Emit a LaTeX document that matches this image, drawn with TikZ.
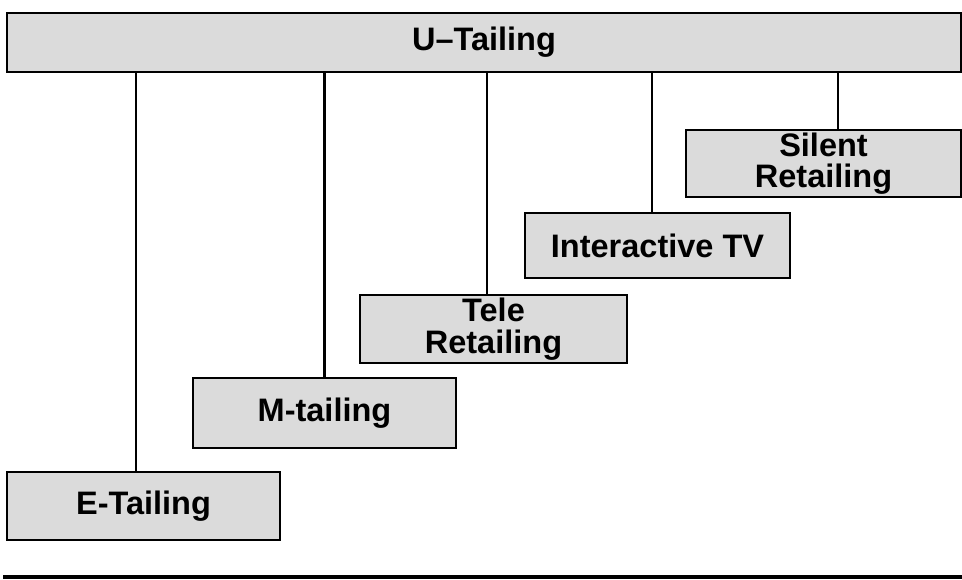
\documentclass[tikz,border=0pt]{standalone}
\usepackage{fontspec}
\setmainfont{Liberation Sans}
\usetikzlibrary{calc}
\tikzset{
  box/.style={draw=black, line width=1.4pt, fill=black!14, inner sep=0pt, align=center,
    font=\bfseries\fontsize{18.5}{18}\selectfont},
  link/.style={line width=1.2pt},
}

\begin{document}
\begin{tikzpicture}[x=0.02cm,y=-0.02cm]
  \useasboundingbox (0,0) rectangle (962,580);

  % 方框
  \node[box, minimum width=19.08cm, minimum height=1.18cm] (utail) at (484,42.5) {U--Tailing};
  \node[box, minimum width=5.46cm, minimum height=1.36cm] (etail) at (143.5,506) {E-Tailing};
  \node[box, minimum width=5.26cm, minimum height=1.40cm] (mtail) at (324.5,413) {M-tailing};
  \node[box, minimum width=5.34cm, minimum height=1.36cm] (tele) at (493.5,329) {Tele\\Retailing};
  \node[box, minimum width=5.30cm, minimum height=1.30cm] (itv) at (657.5,245.5) {Interactive TV};
  \node[box, minimum width=5.50cm, minimum height=1.34cm] (silent) at (823.5,163.5) {Silent\\Retailing};

  % 连线
  \draw[link] ([xshift=-0.15cm]etail.north) -- ([xshift=-0.15cm]etail.north |- utail.south);
  \draw[link] (mtail.north) -- (mtail.north |- utail.south);
  \draw[link] ([xshift=-0.13cm]tele.north) -- ([xshift=-0.13cm]tele.north |- utail.south);
  \draw[link] ([xshift=-0.11cm]itv.north) -- ([xshift=-0.11cm]itv.north |- utail.south);
  \draw[link] ([xshift=0.29cm]silent.north) -- ([xshift=0.29cm]silent.north |- utail.south);

  % 底线
  \draw[line width=1.8pt] (3,577) -- (962,577);
\end{tikzpicture}
\end{document}
